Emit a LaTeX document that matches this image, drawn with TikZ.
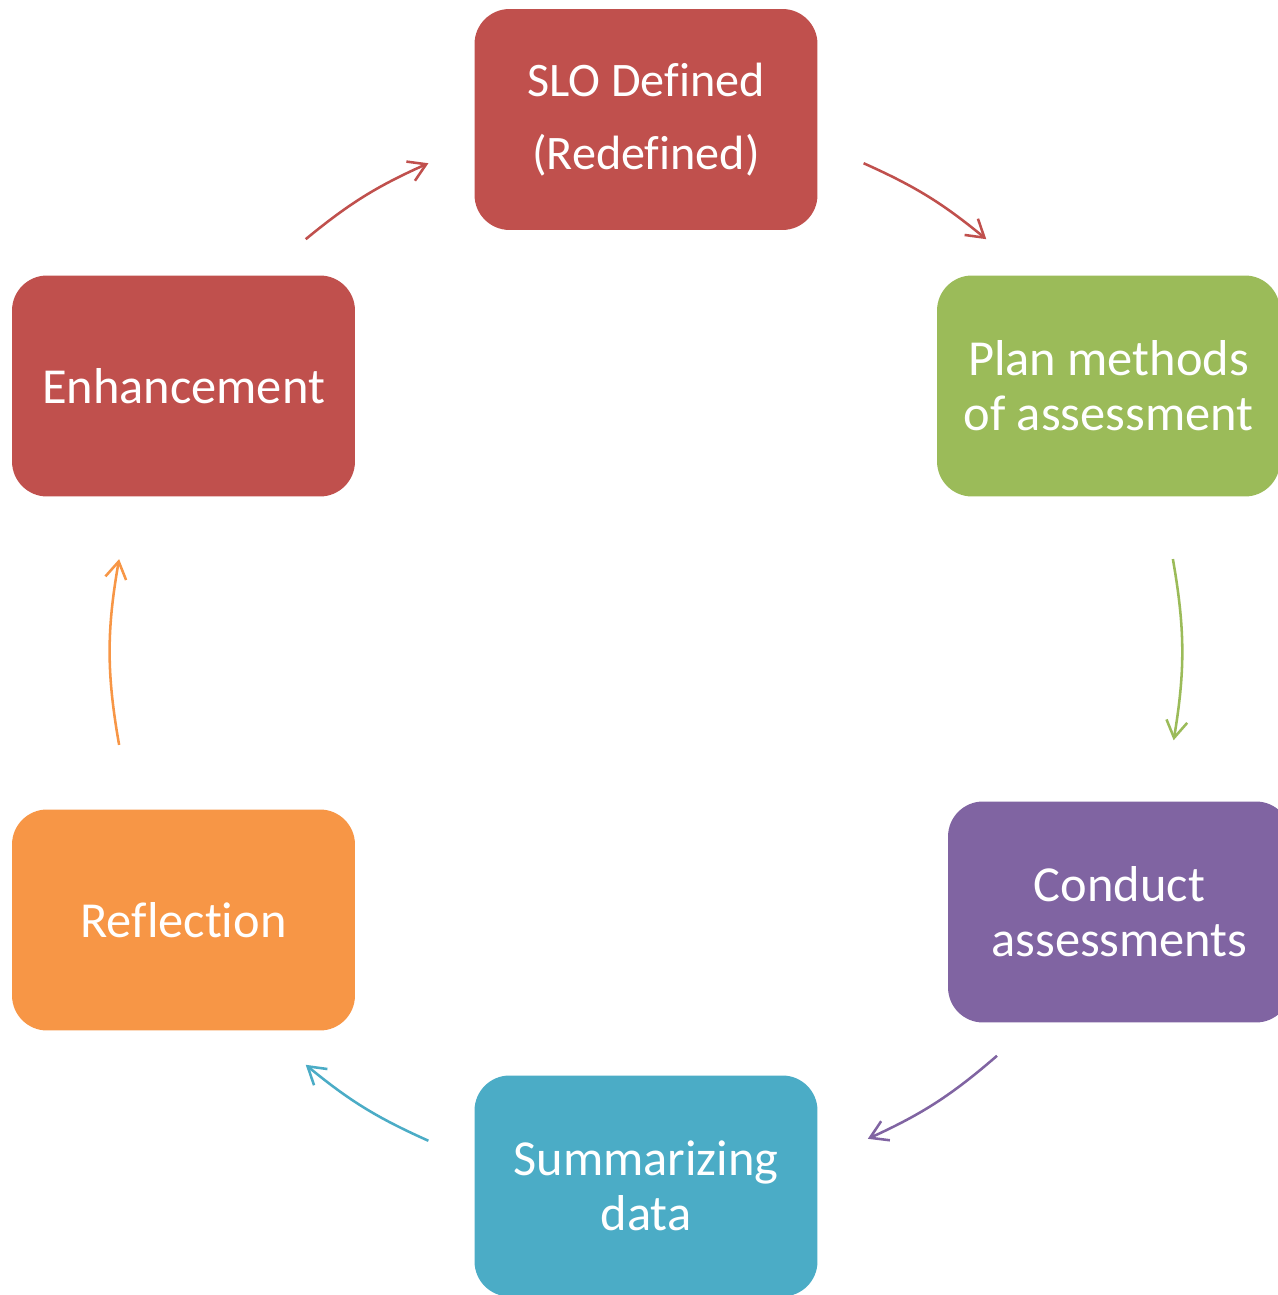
\documentclass[tikz,border=0pt]{standalone}
\usepackage{fontspec}
\setmainfont[RawFeature={-liga}]{Carlito}
\usetikzlibrary{calc,arrows.meta}
\definecolor{sloRed}{HTML}{C0504D}
\definecolor{planGreen}{HTML}{9BBB59}
\definecolor{condPurple}{HTML}{8064A2}
\definecolor{summBlue}{HTML}{4BACC6}
\definecolor{reflOrange}{HTML}{F79646}
\tikzset{
	stage/.style={rounded corners=0.7cm, minimum width=6.86cm, minimum height=4.42cm, inner sep=0pt, text=white, align=center, font=\fontsize{28.7}{31.3}\selectfont},
	cycarrow/.style={line width=1.45pt, -{Straight Barb[length=0.34cm,width=0.42cm]}},
}
\begin{document}
\begin{tikzpicture}[x=0.02cm, y=0.02cm]
			%%%%% START %%%%%
			
			\clip (0, 0) rectangle (1278, 1295);
			
			\node[stage, fill=sloRed, font=\fontsize{27.4}{31.3}\selectfont] (slo) at (646, 1175.5) {SLO Defined\\[0.36cm](Redefined)};
			\node[stage, fill=planGreen] (plan) at (1108.5, 909) {Plan methods\\of assessment};
			\node[stage, fill=condPurple] (conduct) at (1119.5, 383) {Conduct\\assessments};
			\node[stage, fill=summBlue] (summ) at (646, 109) {Summarizing\\data};
			\node[stage, fill=reflOrange] (refl) at (183.5, 375) {Reflection};
			\node[stage, fill=sloRed] (enh) at (183.5, 909) {Enhancement};
			
			% points on the cycle circle
			\coordinate (ctr) at (646, 643);
			\coordinate (enhOut) at ([shift={(129.5:535)}]ctr);
			\coordinate (sloIn) at ([shift={(114:535)}]ctr);
			\coordinate (sloOut) at ([shift={(66:535)}]ctr);
			\coordinate (planIn) at ([shift={(50.5:535)}]ctr);
			\coordinate (planOut) at ([shift={(10:535)}]ctr);
			\coordinate (condIn) at ([shift={(-9.5:535)}]ctr);
			\coordinate (condOut) at ([shift={(-49:535)}]ctr);
			\coordinate (summIn) at ([shift={(-65.5:535)}]ctr);
			\coordinate (summOut) at ([shift={(-114:535)}]ctr);
			\coordinate (reflIn) at ([shift={(-129.5:535)}]ctr);
			\coordinate (reflOut) at ([shift={(190:535)}]ctr);
			\coordinate (enhIn) at ([shift={(170:535)}]ctr);
			
			\draw[cycarrow, sloRed] (enhOut) to[bend left=7.7] (sloIn);
			\draw[cycarrow, sloRed] (sloOut) to[bend left=7.7] (planIn);
			\draw[cycarrow, planGreen] (planOut) to[bend left=9.7] (condIn);
			\draw[cycarrow, condPurple] (condOut) to[bend left=8.2] (summIn);
			\draw[cycarrow, summBlue] (summOut) to[bend left=7.7] (reflIn);
			\draw[cycarrow, reflOrange] (reflOut) to[bend left=10] (enhIn);
			
			%%%%% END %%%%%
\end{tikzpicture}
\end{document}
